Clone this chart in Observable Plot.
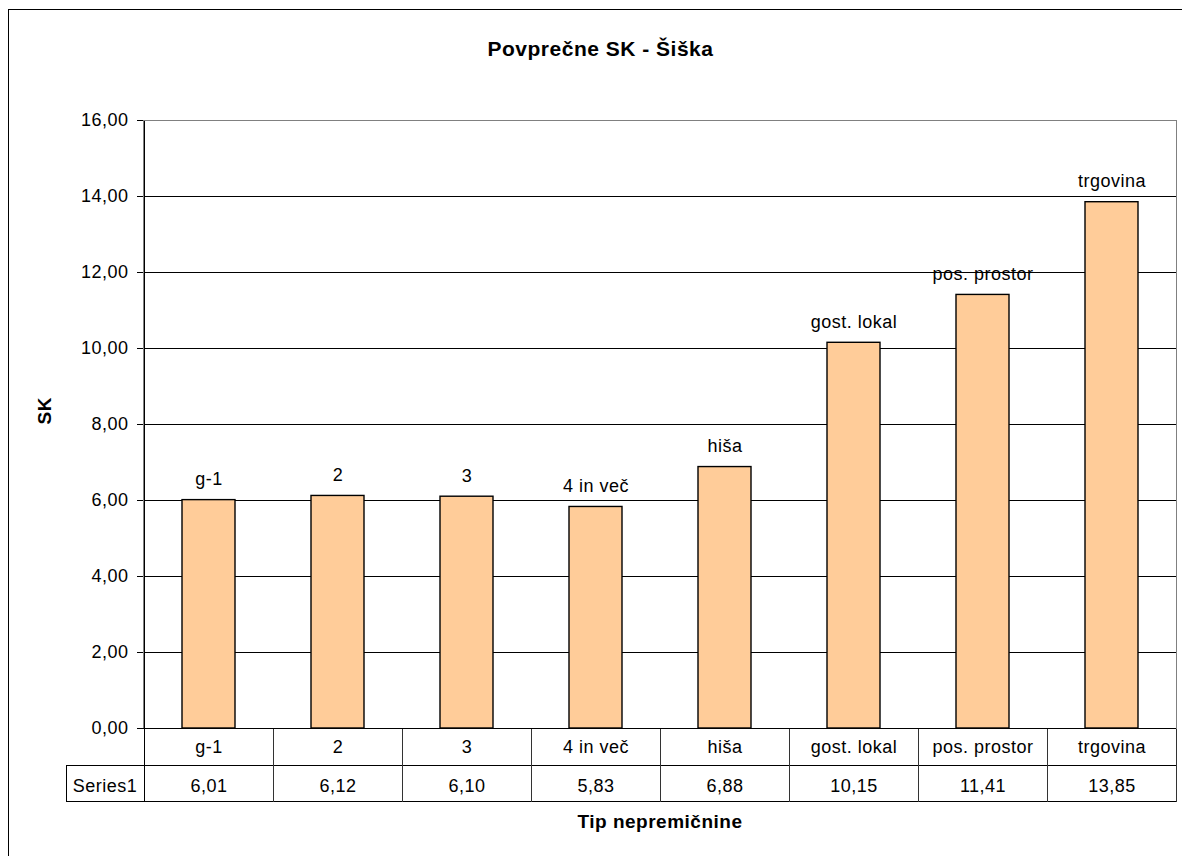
<!DOCTYPE html>
<html>
<head>
<meta charset="utf-8">
<script src="https://cdn.jsdelivr.net/npm/d3@7"></script>
<script src="https://cdn.jsdelivr.net/npm/@observablehq/plot@0.6"></script>
<style>
  html, body { margin: 0; padding: 0; background: #fff; }
  #chart { position: relative; width: 1182px; height: 856px; overflow: hidden; background: #fff; }
  #chart svg { position: absolute; left: 0; top: 0; }
  #chart svg text { letter-spacing: 0.5px; }
  #chart svg text.heading { letter-spacing: 1.1px; }
  #chart svg text.axis-title { letter-spacing: 0.8px; }
  #chart .border { position: absolute; left: 8px; top: 9px; width: 1400px; height: 1000px;
    border-left: 1px solid #000; border-top: 1px solid #000; pointer-events: none; z-index: 2; }
</style>
</head>
<body>
<div id="chart"><div class="border"></div></div>
<script>
// Average SK by property type, Šiška
const categories = ["g-1", "2", "3", "4 in več", "hiša", "gost. lokal", "pos. prostor", "trgovina"];
const values = [6.01, 6.12, 6.10, 5.83, 6.88, 10.15, 11.41, 13.85];
const yTicks = [0, 2, 4, 6, 8, 10, 12, 14, 16];
const seriesName = "Series1";
const title = "Povprečne SK - Šiška";
const xTitle = "Tip nepremičnine";
const yTitle = "SK";

const rows = categories.map((cat, i) => ({cat, value: values[i]}));
const fmt = d => d.toFixed(2).replace(".", ",");
const font = "'Liberation Sans', Arial, sans-serif";

const W = 1182, H = 856;
const mLeft = 143, mRight = 6, mTop = 120, mBottom = 128;
const row1 = 37, row2 = 73; // data table row bottoms below the axis, px
const plotCenter = mLeft + (W - mLeft - mRight) / 2;

const plot = Plot.plot({
  width: W,
  height: H,
  marginLeft: mLeft,
  marginRight: mRight,
  marginTop: mTop,
  marginBottom: mBottom,
  style: {fontFamily: font, fontSize: "18px", background: "transparent", overflow: "visible", color: "#000"},
  x: {domain: categories, padding: 0, axis: null},
  y: {domain: [0, 16], ticks: yTicks, axis: null},
  marks: [
    // horizontal gridlines
    Plot.ruleY(yTicks.filter(t => t > 0 && t < 16), {stroke: "#000", strokeWidth: 1}),
    // plot area border
    Plot.frame({stroke: "#808080", strokeWidth: 1}),
    // bars
    Plot.barY(rows, {x: "cat", y: "value", fill: "#FFCC99", stroke: "#000", strokeWidth: 1.4, insetLeft: 38, insetRight: 38}),
    // category names above bars
    Plot.text(rows, {x: "cat", y: "value", text: "cat", dy: -15, lineAnchor: "bottom", fontSize: 18, fill: "#000"}),
    // y axis ticks and labels
    Plot.axisY(yTicks, {tickSize: 6, tickPadding: 9, tickFormat: fmt, fontSize: 18, label: null, stroke: "#000", fill: "#000"}),
    // baseline of the value axis
    Plot.ruleY([0], {stroke: "#000", strokeWidth: 1}),
    // data table horizontal lines
    Plot.ruleY([0], {dy: row1, stroke: "#000"}),
    Plot.ruleY([0], {dy: row2, stroke: "#000"}),
    // data table: category row and value row
    Plot.text(rows, {x: "cat", text: "cat", frameAnchor: "bottom", dy: 18.5, lineAnchor: "middle", fontSize: 18, fill: "#000"}),
    Plot.text(rows, {x: "cat", text: d => fmt(d.value), frameAnchor: "bottom", dy: 57.5, lineAnchor: "middle", fontSize: 18, fill: "#000"}),
    Plot.text([seriesName], {text: d => d, frameAnchor: "bottom-left", dx: -38.5, dy: 57.5, lineAnchor: "middle", textAnchor: "middle", fontSize: 18, fill: "#000"}),
    // titles
    Plot.text([title], {text: d => d, frameAnchor: "top", dx: 600 - plotCenter, dy: -65, lineAnchor: "bottom", fontSize: 21, fontWeight: "bold", fill: "#000", className: "heading"}),
    Plot.text([xTitle], {text: d => d, frameAnchor: "bottom", dy: 99, lineAnchor: "bottom", fontSize: 19, fontWeight: "bold", fill: "#000", className: "axis-title"}),
    Plot.text([yTitle], {text: d => d, frameAnchor: "left", dx: 44.5 - mLeft, rotate: -90, lineAnchor: "middle", fontSize: 19, fontWeight: "bold", fill: "#000", className: "axis-title"})
  ]
});

// Data table vertical lines and the series-name cell, placed with the chart's scales
const xs = plot.scale("x");
const ys = plot.scale("y");
const y0 = Math.round(ys.apply(0)) + 0.5;
const yTop = Math.round(ys.apply(16)) + 0.5;
const svg = d3.select(plot);
const g = svg.append("g").attr("stroke", "#000").attr("fill", "none").attr("shape-rendering", "crispEdges");
const edges = categories.map(c => xs.apply(c)).concat([xs.apply(categories[categories.length - 1]) + xs.bandwidth]);
edges.forEach((x, i) => {
  const px = Math.round(x) + 0.5;
  g.append("line").attr("x1", px).attr("x2", px)
    .attr("y1", i === 0 ? yTop : y0).attr("y2", y0 + row2)
    .attr("stroke", i === 0 ? "#000" : "#333");
});
const cellLeft = 66.5;
const xLeft = Math.round(edges[0]) + 0.5;
g.append("path").attr("d", `M${xLeft},${y0 + row1}H${cellLeft}V${y0 + row2}H${xLeft}`);

document.getElementById("chart").appendChild(plot);
</script>
</body>
</html>
